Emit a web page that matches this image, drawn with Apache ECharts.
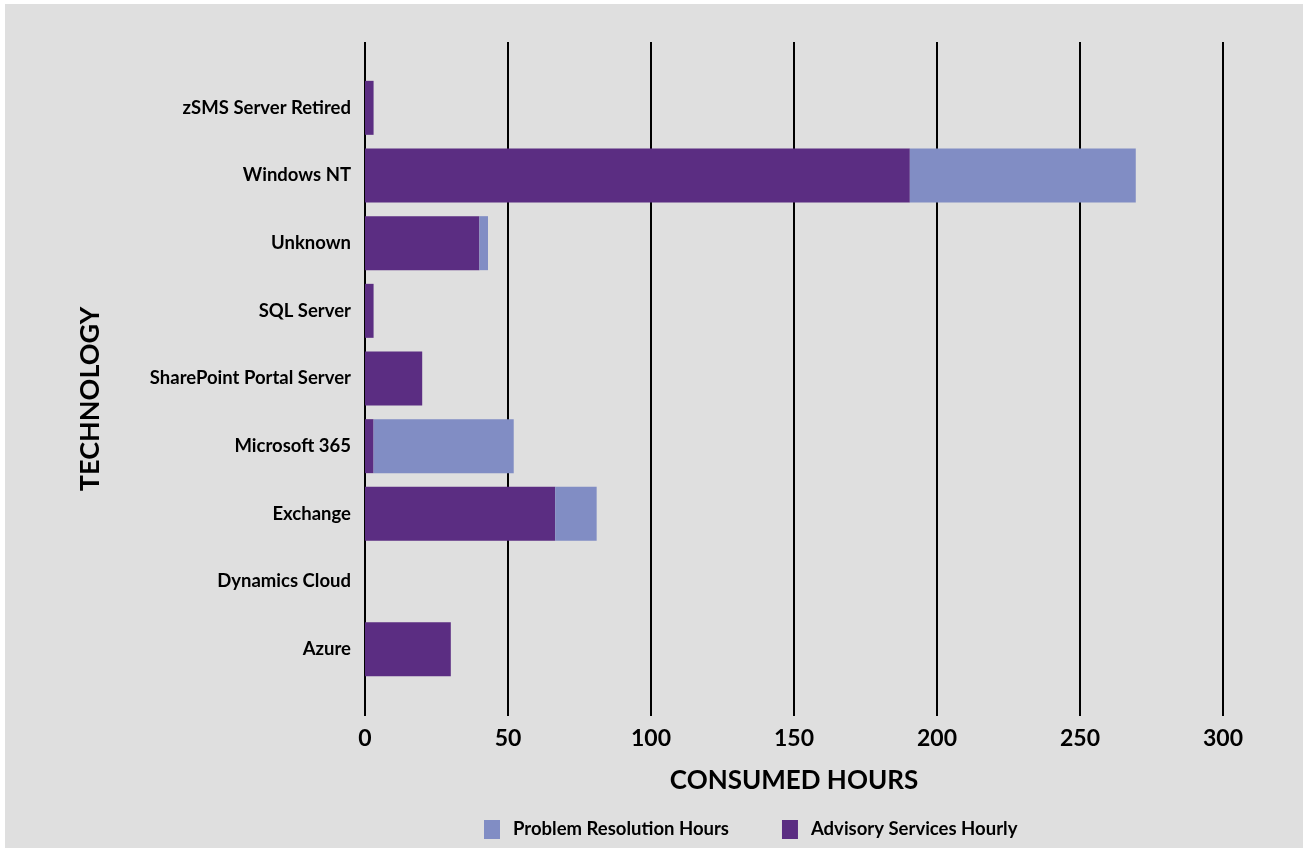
<!DOCTYPE html>
<html>
<head>
<meta charset="utf-8">
<script src="https://cdn.jsdelivr.net/npm/echarts@6/dist/echarts.min.js"></script>
<style>
  html, body { margin: 0; padding: 0; background: #ffffff; }
  #chart { position: absolute; left: 5px; top: 4px; width: 1298px; height: 844px; }
</style>
</head>
<body>
<div id="chart"></div>
<script>
// Categories listed bottom to top (as ECharts category y-axis draws them)
const categories = ['Azure', 'Dynamics Cloud', 'Exchange', 'Microsoft 365', 'SharePoint Portal Server', 'SQL Server', 'Unknown', 'Windows NT', 'zSMS Server Retired'];
const advisoryHours = [30, 0, 66.5, 3, 20, 3, 40, 190.5, 3];
const problemHours = [0, 0, 14.5, 49, 0, 0, 3, 79, 0];
const seriesNames = ['Problem Resolution Hours', 'Advisory Services Hourly'];
const xTicks = { min: 0, max: 300, interval: 50 };
const xTitle = 'CONSUMED HOURS';
const yTitle = 'TECHNOLOGY';

const FONT = 'Lato';
const purple = '#5b2d82';
const lavender = '#818dc4';

const chart = echarts.init(document.getElementById('chart'), null, { renderer: 'canvas' });
chart.setOption({
  backgroundColor: '#dfdfdf',
  animation: false,
  textStyle: { fontFamily: FONT },
  grid: [
    { left: 360, top: 38, width: 858, height: 674 },
    { left: 360, top: 70, width: 858, height: 609 }
  ],
  xAxis: [
    {
      gridIndex: 0, type: 'value', min: xTicks.min, max: xTicks.max, interval: xTicks.interval,
      axisLine: { show: false }, axisTick: { show: false },
      splitLine: { show: true, lineStyle: { color: '#000000', width: 2 } },
      axisLabel: { color: '#000000', fontFamily: FONT, fontWeight: 'bold', fontSize: 23, margin: 11 },
      name: xTitle, nameLocation: 'middle', nameGap: 52,
      nameTextStyle: { color: '#000000', fontFamily: FONT, fontWeight: 'bold', fontSize: 26, verticalAlign: 'top' }
    },
    {
      gridIndex: 1, type: 'value', min: xTicks.min, max: xTicks.max, interval: xTicks.interval, show: false
    }
  ],
  yAxis: [
    { gridIndex: 0, type: 'value', show: false },
    {
      gridIndex: 1, type: 'category', data: categories,
      axisLine: { show: false }, axisTick: { show: false },
      axisLabel: { color: '#000000', fontFamily: FONT, fontWeight: 'bold', fontSize: 18.5, margin: 14 }
    }
  ],
  legend: {
    data: seriesNames,
    left: 479, top: 816, padding: 0,
    itemWidth: 16, itemHeight: 19, itemGap: 53,
    icon: 'rect',
    textStyle: { color: '#000000', fontFamily: FONT, fontWeight: 'bold', fontSize: 18.5, padding: [0, 0, 0, 8] }
  },
  graphic: [
    {
      type: 'text', x: 85, y: 395, rotation: Math.PI / 2,
      style: { text: yTitle, fill: '#000000', font: 'bold 27px ' + FONT, textAlign: 'center', textVerticalAlign: 'middle' }
    }
  ],
  series: [
    {
      name: seriesNames[1], type: 'bar', stack: 'total', xAxisIndex: 1, yAxisIndex: 1,
      data: advisoryHours, barWidth: 54, itemStyle: { color: purple }
    },
    {
      name: seriesNames[0], type: 'bar', stack: 'total', xAxisIndex: 1, yAxisIndex: 1,
      data: problemHours, barWidth: 54, itemStyle: { color: lavender }
    }
  ]
});
</script>
</body>
</html>
